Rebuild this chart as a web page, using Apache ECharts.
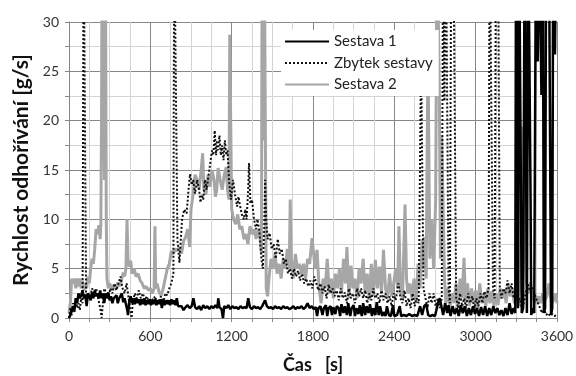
<!DOCTYPE html>
<html><head><meta charset="utf-8">
<script src="https://cdn.jsdelivr.net/npm/echarts@6/dist/echarts.min.js"></script>
<style>html,body{margin:0;padding:0;background:#fff}#c{width:576px;height:376px}</style>
</head><body><div id="c"></div>
<script>
// Series 1: Sestava 1
const t1 = [0,10,20,30,40,50,60,70,80,90,100,110,120,130,140,150,160,170,180,190,200,210,220,230,240,250,260,270,280,290,300,310,320,330,340,350,360,370,380,390,400,410,420,430,435,445,455,465,475,485,495,505,515,525,535,545,555,565,575,585,595,605,615,625,635,645,655,665,675,685,695,705,715,725,735,745,755,765,775,785,795,805,815,830,845,860,875,890,905,918,930,945,960,975,990,1005,1020,1035,1050,1065,1080,1095,1101,1110,1125,1136,1145,1160,1175,1190,1205,1220,1235,1250,1265,1280,1295,1310,1322,1335,1350,1365,1380,1395,1410,1425,1446,1460,1475,1490,1505,1520,1535,1550,1565,1580,1595,1610,1625,1640,1655,1670,1685,1700,1715,1730,1745,1760,1775,1790,1805,1820,1830,1840,1855,1870,1880,1895,1905,1915,1930,1940,1950,1965,1975,1990,2000,2010,2025,2035,2050,2060,2075,2085,2100,2110,2120,2135,2145,2160,2170,2185,2195,2210,2220,2235,2245,2260,2270,2285,2295,2310,2320,2335,2345,2360,2375,2390,2400,2420,2440,2450,2470,2490,2510,2530,2550,2570,2590,2605,2620,2635,2650,2665,2680,2700,2722,2735,2750,2760,2775,2790,2800,2815,2830,2845,2860,2875,2890,2905,2920,2935,2950,2965,2980,2995,3010,3025,3040,3055,3070,3085,3100,3115,3130,3145,3160,3175,3190,3205,3220,3235,3250,3265,3280,3292,3298,3305,3312,3320,3332,3340,3350,3362,3370,3378,3388,3398,3405,3410,3420,3432,3445,3458,3470,3485,3495,3503,3512,3520,3530,3540,3556,3565,3572,3585,3595,3600];
const v1 = [0,0.3,0.5,1.2,0.8,2,1.5,2.5,2,2.3,2.8,2,2.4,1.2,2.5,2.2,1.8,2.6,2,2.8,2.2,2.5,2,2.8,2,2.5,1.5,2.5,2,2.6,1.8,2.2,1.5,2,1.8,2.3,1.5,2,1.8,2.5,1.6,2,1.4,0.8,0.3,1.8,2.2,1.5,2,1.4,2,1.5,1.9,1.3,1.9,1.4,2,1.3,1.8,1.4,1.9,1.3,1.8,1.4,1.9,1.3,1.8,1.4,1.9,1,1.8,1.3,1.8,1.4,1.8,1.3,1.9,1.4,1.8,1.3,2,1.2,1,1.2,0.8,1.1,1.3,1,1.2,2,1.1,0.9,1.2,0.8,1.3,1,1.2,0.9,1.2,1,1.3,1,2,1.1,0.9,0,1.2,1,1.3,0.9,1.2,1,1.1,0.9,1.2,1,1.1,1,2,1.1,0.9,1.2,1,1.1,0.9,1.2,1.8,1.2,1,1.1,0.9,1.2,1,1.1,0.9,1.2,1,1.1,0.9,1,1.2,0.9,1.1,1,1.2,0.9,1.1,1.5,1,1.2,0.9,1.1,0.2,1,1.2,0.3,1,1.3,0.2,1,1.2,0.3,1.1,0.4,1.2,1,0.2,1.4,0.5,1.2,0.3,1.5,0.2,1,1.3,0.2,1,0.4,1.3,0.2,1.5,0.3,1.2,0.5,1.4,0.2,1,0.3,1.6,0.3,1.2,0.2,0.6,0.2,1.2,0.3,0.2,1.3,0.2,0.3,1.2,0.2,0.3,0.2,0.4,0.2,0.3,0.2,1.2,0.3,1.2,1.4,0.3,0.2,0.3,0.2,1.5,2,1,0.3,1.5,0.5,1.3,0.2,1.2,0.4,1,0.2,1.3,0.5,1.2,0.2,1,0.3,1.2,0.4,1,0.2,1.1,0.3,1.2,0.2,1,0.3,1.2,0.5,1,0.3,0.8,0.2,1,0.3,1.5,0.4,1,0.5,40,40,1,40,40,0.5,1,40,40,0.5,40,40,12,0.3,1,0.5,40,26,40,22.6,40,0.5,1,40,40,40,0.3,1,40,26.7,40,40];

// Series 2: Zbytek sestavy
const t2 = [0,10,20,30,40,50,60,70,80,90,100,108,118,126,140,155,170,185,200,215,230,241,250,260,275,290,305,320,335,350,365,380,395,410,425,440,450,462,470,485,500,515,530,545,560,575,590,605,620,635,650,665,679,695,710,725,740,755,770,776,790,800,815,825,834,850,868,880,893,905,916,930,945,960,970,980,990,1003,1015,1030,1045,1055,1065,1075,1085,1092,1100,1110,1120,1130,1140,1150,1160,1170,1180,1195,1210,1225,1240,1250,1260,1275,1290,1300,1310,1322,1328,1338,1350,1365,1380,1390,1405,1420,1430,1440,1447,1455,1465,1480,1495,1510,1525,1540,1555,1570,1585,1600,1615,1630,1645,1660,1675,1690,1705,1720,1735,1750,1765,1780,1795,1810,1825,1840,1855,1870,1885,1900,1915,1930,1945,1960,1975,1990,2005,2020,2035,2050,2065,2080,2095,2110,2125,2140,2155,2170,2185,2200,2215,2230,2245,2260,2275,2290,2305,2320,2335,2350,2365,2380,2395,2410,2430,2445,2460,2475,2490,2505,2520,2535,2550,2565,2580,2597,2607,2615,2630,2645,2660,2675,2690,2705,2720,2735,2750,2760,2770,2780,2790,2800,2810,2820,2835,2848,2856,2870,2885,2900,2915,2930,2945,2960,2975,2990,3005,3020,3035,3050,3065,3080,3095,3103,3115,3128,3140,3150,3165,3178,3190,3205,3220,3235,3250,3265,3280,3295,3310,3325,3340,3355,3370,3385,3400,3415,3430,3445,3460,3475,3490,3505,3520,3535,3550,3565,3580,3600];
const v2 = [0,1,0.3,1.5,0.5,2,1,1.5,0.8,2,1.5,40,40,2,2.5,2,3,2.5,3,2,1,0,1.5,3,2.5,2,3,2.5,3.5,2.8,3.5,4.2,3,2.5,3.5,2,1,0,1.5,2.5,2,2.8,2,2.5,1.8,2.2,1.5,2,1.8,2.2,1.5,1.8,2.2,1.5,2.5,2.3,3,3.5,4.5,40,40,7.9,5.6,8,10,11,10.6,12.7,14.6,13.5,14,12.6,14,13,11.7,12.5,12,14,13,14.5,16,17,16.5,19,16.5,18,17,18.5,16.5,17.5,16,18,16.5,17,14,12,14,12.5,11.3,12.3,11.5,10.5,10,11,10,13,15.7,11.6,12,10,9,10,8.8,5.9,5,9,14,10,8,8.6,7,7.5,6,8,6.5,7,5.5,6,4.5,5,4,5,4.2,4.8,3.8,4.5,3.5,4,3.2,3.8,3,4.2,3.5,2.8,3.5,2.5,3.2,2,3.4,2.5,3,2.2,2.8,1.8,3,2,2.6,1.5,3,2,2.5,1.5,3,2.2,3,2,2.8,1.5,2.5,1.8,3,2,2.5,1.5,2.8,1.8,2.5,1.5,2.2,1.2,2.5,1.8,3.5,2,1.5,2.8,1.2,2,1,2.5,1.2,2,1.5,27,27,3,2,1,2.5,1.5,2.5,1.2,2,1,2,40,22,40,40,3,1.5,40,40,40,2,1,2.5,1.2,2,1,2.5,1.5,2.2,1,2,1.2,2.5,1.5,2.7,2,3,40,40,3,2,40,40,3,2,3,2.5,3.8,2.5,3.5,2,2.8,1.5,2,1,1.5,2.6,3.4,2.8,3.2,2.6,2,1.5,1,0.5,1,0.3,0.5,0.2,0.4,0.2,0.3];

// Series 3: Sestava 2
const t3 = [0,10,20,30,40,50,60,70,80,90,100,110,120,130,140,150,160,170,180,190,200,210,220,230,235,240,245,255,262,268,275,280,290,300,315,330,345,360,375,390,400,410,420,428,435,445,455,465,480,495,510,525,540,555,570,585,600,615,628,634,640,650,665,680,695,710,725,740,755,770,785,800,815,830,845,860,875,890,900,915,930,945,960,975,986,995,1010,1025,1040,1055,1070,1080,1090,1100,1115,1130,1145,1160,1170,1180,1186,1192,1200,1215,1230,1245,1260,1275,1290,1305,1320,1335,1350,1365,1380,1395,1410,1420,1425,1432,1440,1448,1455,1465,1475,1490,1505,1520,1535,1550,1565,1580,1595,1610,1625,1632,1640,1655,1670,1685,1700,1715,1730,1745,1760,1775,1793,1805,1815,1830,1845,1860,1875,1890,1905,1920,1935,1950,1965,1980,1995,2010,2025,2040,2050,2065,2080,2095,2110,2125,2140,2155,2170,2185,2200,2215,2230,2245,2260,2275,2290,2305,2320,2335,2350,2365,2380,2395,2410,2425,2434,2445,2460,2470,2479,2490,2500,2515,2530,2545,2560,2575,2590,2605,2615,2625,2635,2648,2655,2662,2675,2690,2705,2715,2725,2732,2740,2750,2762,2770,2780,2795,2810,2825,2840,2855,2870,2885,2900,2914,2925,2940,2955,2970,2985,3000,3015,3030,3045,3060,3075,3090,3105,3120,3135,3150,3165,3180,3195,3210,3225,3240,3255,3270,3285,3300,3315,3330,3338,3352,3362,3375,3390,3405,3420,3435,3450,3465,3480,3495,3510,3525,3540,3550,3560,3575,3590,3600];
const v3 = [0.5,1.5,4,3.5,4,3,4,3.2,4,3,3.8,2.8,3.5,3,4.2,3.5,5,6,5.5,7,9,8.5,9.4,8,9.4,20,40,40,14,40,10,4,3,3.5,3,3.3,3,3.6,3.2,4,4.6,4.2,5,10,6,5.2,5.8,4.5,5,4.2,4.5,3.8,3.5,3,3.2,2.8,3,2.5,3,9.3,3,3.5,2.6,2.3,3,4,5,5.5,6.8,6.5,7,6.8,7.2,6.5,7.8,8.2,9,7.2,11,12.5,14.5,14,13,15,16.7,13,12.5,14.5,13.3,15,14,12.3,13,15.2,14,13,14.5,15.3,13,12,28.7,28.7,11,10,9.5,10.5,9,9.3,8,8.5,7.5,9.3,8.5,9,8,9,8,6.5,40,18,40,40,3,2.2,4,6,5,6.5,4.5,5.5,4,6,5,7,5,12,6,4,6.5,5,5.5,4.5,5.5,4,6,5.5,8.1,6.5,5,6.9,3,1.5,4,3,6,2.5,4,2,4.5,3,5,2.5,6,3.5,7.2,2,5.3,3,4,2,5,3.5,6,2.5,4.5,1.8,5.5,2.2,5.9,3,5.2,2.5,6.9,3,2,4.5,2.2,3.5,5,3,9.3,3,2,7,11.5,4,2.5,3.5,2,4,1.5,5.5,3,8,5,8.2,4,27,27,6,10,5,12,40,40,23,6,18.4,18.4,4,1.5,3,1,2.5,1.5,3.5,1.2,4,2,6.1,1.5,3.5,1.2,3,1.5,2.8,1,3.5,1.5,2.5,1.2,3,1.5,2.7,1.2,2.5,1.3,3,2,2.8,1.5,3.5,2.2,3,1.5,2.5,1.2,5,19.4,19.4,8,3.6,2.5,3.6,1.8,2.5,1.5,2.2,1.5,2.5,1.8,2.2,3.5,3.5,1.5,1.8,2.5,1.5];

const seriesNames = ['Sestava 1', 'Zbytek sestavy', 'Sestava 2'];
const xTicks = [0, 600, 1200, 1800, 2400, 3000, 3600];
const yTicks = [0, 5, 10, 15, 20, 25, 30];

const pair = (t, v) => t.map((x, i) => [x, v[i]]);
const FONT = 'Lato, "Open Sans", sans-serif';
const chart = echarts.init(document.getElementById('c'), null, {renderer: 'canvas'});
chart.setOption({
  animation: false,
  backgroundColor: '#fff',
  grid: {left: 69, right: 19, top: 22, bottom: 58, containLabel: false, outerBoundsMode: 'none'},
  legend: {
    orient: 'vertical', left: 281, top: 30,
    backgroundColor: '#fff', padding: [4, 6, 4, 3],
    itemWidth: 44, itemHeight: 14, itemGap: 6.5,
    itemStyle: {opacity: 0},
    textStyle: {fontFamily: FONT, fontSize: 15, color: '#222', lineHeight: 14},
    data: seriesNames
  },
  xAxis: {
    type: 'value', min: 0, max: 3600, interval: 150,
    name: 'Čas   [s]', nameLocation: 'middle', nameGap: 38,
    nameTextStyle: {fontFamily: FONT, fontSize: 18, fontWeight: 'bold', color: '#111'},
    axisLine: {show: true, lineStyle: {color: '#868686', width: 1}},
    axisTick: {show: true, length: 4, inside: false, lineStyle: {color: '#868686'}},
    axisLabel: {fontFamily: FONT, fontSize: 14, color: '#333', margin: 11,
      formatter: v => xTicks.includes(v) ? String(v) : ''},
    splitLine: {show: true, lineStyle: {width: 1, color: ['#888888', '#d4d4d4', '#d4d4d4', '#d4d4d4']}}
  },
  yAxis: {
    type: 'value', min: 0, max: 30, interval: 2.5,
    name: 'Rychlost odhořívání [g/s]', nameLocation: 'middle', nameGap: 37,
    nameTextStyle: {fontFamily: FONT, fontSize: 21, fontWeight: 'bold', color: '#111'},
    axisLine: {show: true, lineStyle: {color: '#868686', width: 1}},
    axisTick: {show: true, length: 4, inside: false, lineStyle: {color: '#868686'}},
    axisLabel: {fontFamily: FONT, fontSize: 14, color: '#333', margin: 10,
      formatter: v => yTicks.includes(v) ? String(v) : ''},
    splitLine: {show: true, lineStyle: {width: 1, color: ['#888888', '#d4d4d4']}}
  },
  series: [
    {name: seriesNames[2], type: 'line', data: pair(t3, v3), showSymbol: false, symbol: 'none', clip: true, z: 2,
      lineStyle: {color: '#a6a6a6', width: 3}, itemStyle: {color: '#a6a6a6'}},
    {name: seriesNames[1], type: 'line', data: pair(t2, v2), showSymbol: false, symbol: 'none', clip: true, z: 3,
      lineStyle: {color: '#111', width: 2, type: [2, 2]}, itemStyle: {color: '#111'}},
    {name: seriesNames[0], type: 'line', data: pair(t1, v1), showSymbol: false, symbol: 'none', clip: true, z: 4,
      lineStyle: {color: '#000', width: 2.5}, itemStyle: {color: '#000'}}
  ]
});
</script></body></html>
